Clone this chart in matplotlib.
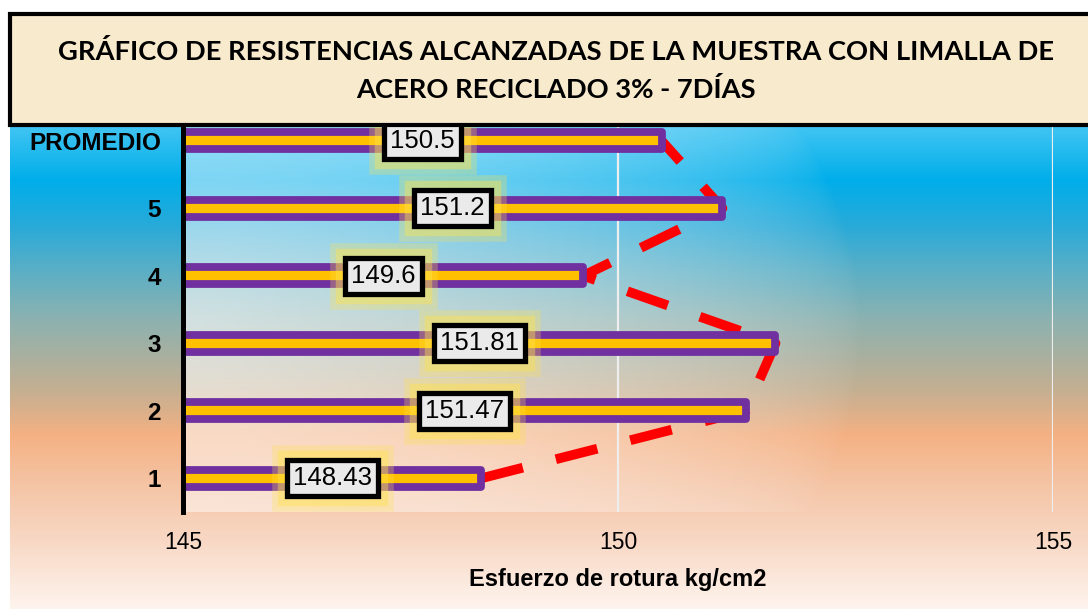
import numpy as np
import matplotlib
matplotlib.use("Agg")
import matplotlib.pyplot as plt
import matplotlib.patheffects as pe
from matplotlib.colors import to_rgb
from matplotlib.patches import Rectangle

plt.rcParams['font.family'] = ['Liberation Sans', 'DejaVu Sans']

# datos
muestras = ['1', '2', '3', '4', '5', 'PROMEDIO']
resistencias = [148.43, 151.47, 151.81, 149.6, 151.2, 150.5]
etiquetas = ['148.43', '151.47', '151.81', '149.6', '151.2', '150.5']
ticks_x = [145, 150, 155]

W, H = 1088, 609
fig = plt.figure(figsize=(W / 100, H / 100), dpi=100)
fig.patch.set_facecolor('white')

# fondo degradado (azul arriba, naranja abajo)
stops_y = [14, 130, 180, 225, 270, 320, 355, 390, 435, 490, 540, 609]
stops_c = ['#3DC3F2', '#3DC3F2', '#00AEEA', '#28AAD9', '#5AAFC6', '#8DB2B0',
           '#A8B0A0', '#C4AF92', '#F4B183', '#F5C6A8', '#F8D8C4', '#FEF4EE']
rows = np.arange(14, 610)
rgb = np.array([to_rgb(c) for c in stops_c])
grad = np.stack([np.interp(rows, stops_y, rgb[:, k]) for k in range(3)], axis=1)
grad = np.repeat(grad[:, None, :], 2, axis=1)
bg = fig.add_axes([10 / W, 0, 1 - 10 / W, 1 - 14 / H])
bg.imshow(grad, aspect='auto', interpolation='bilinear')
bg.axis('off')
bg.set_zorder(0)

# grafico principal
ax = fig.add_axes([183 / W, 1 - 512 / H, (1053 - 183) / W, (512 - 107) / H])
ax.set_zorder(1)
ax.set_facecolor('none')

# brillo blanco en el area de trazado
xx, yy = np.meshgrid(np.linspace(0, 1, 200), np.linspace(0, 1, 200))
r = np.sqrt((xx / 0.78) ** 2 + ((yy - 0.45) / 1.2) ** 2)
alpha = 0.62 * np.clip(1 - r, 0, 1) ** 0.6
glow = np.zeros((200, 200, 4))
glow[..., :3] = 1
glow[..., 3] = alpha
ax.imshow(glow, extent=[0, 1, 0, 1], transform=ax.transAxes, aspect='auto',
          origin='lower', zorder=0.5, interpolation='bilinear')

y = np.arange(len(muestras))
ax.set_xlim(145, 155)
ax.set_ylim(-0.5, 5.5)

ax.xaxis.grid(True, color='#EEEEEE', lw=1.6, zorder=1)
ax.set_axisbelow(True)

ax.plot(resistencias, y, color='#FF0000', lw=7, linestyle=(0, (4.4, 3.5)),
        zorder=2, solid_capstyle='butt')

bars = ax.barh(y, resistencias, height=0.245, color='#FFC000',
               edgecolor='#7030A0', linewidth=5.6, zorder=3)
for b in bars:
    b.set_joinstyle('round')

for yi, v, t in zip(y, resistencias, etiquetas):
    txt = ax.text((145 + v) / 2, yi, t, ha='center', va='center', fontsize=18.5,
                  zorder=5,
                  bbox=dict(boxstyle='square,pad=0.24', fc='#EAEAEA',
                            ec='black', lw=3.8))
    txt.get_bbox_patch().set_path_effects([
        pe.Stroke(linewidth=22, foreground='#FFE34D', alpha=0.28),
        pe.Stroke(linewidth=14, foreground='#FFE34D', alpha=0.42),
        pe.Normal()])

for s in ['top', 'right', 'bottom']:
    ax.spines[s].set_visible(False)
ax.spines['left'].set_linewidth(3.6)
ax.spines['left'].set_color('black')
ax.spines['left'].set_zorder(6)

ax.set_yticks(y, muestras, fontsize=17.5, fontweight='bold')
ax.set_xticks(ticks_x, [str(t) for t in ticks_x], fontsize=16.5)
ax.tick_params(axis='y', length=0, pad=16)
ax.tick_params(axis='x', length=0, pad=14)
ax.set_xlabel('Esfuerzo de rotura kg/cm2', fontsize=17, fontweight='bold',
              labelpad=10)

# caja del titulo
fig.add_artist(Rectangle((10 / W, 1 - 125 / H), 1100 / W, (125 - 14) / H,
                         transform=fig.transFigure, fc='#F8EACD', ec='black',
                         lw=3, zorder=10))
fig.text(556 / W, 1 - 52 / H,
         'GRÁFICO DE RESISTENCIAS ALCANZADAS DE LA MUESTRA CON LIMALLA DE',
         ha='center', va='center', fontsize=19.7, fontweight='bold',
         family=['Lato', 'DejaVu Sans'], zorder=11)
fig.text(556 / W, 1 - 90 / H, 'ACERO RECICLADO 3% - 7DÍAS',
         ha='center', va='center', fontsize=19.7, fontweight='bold',
         family=['Lato', 'DejaVu Sans'], zorder=11)

fig.savefig('out.png', dpi=100)
